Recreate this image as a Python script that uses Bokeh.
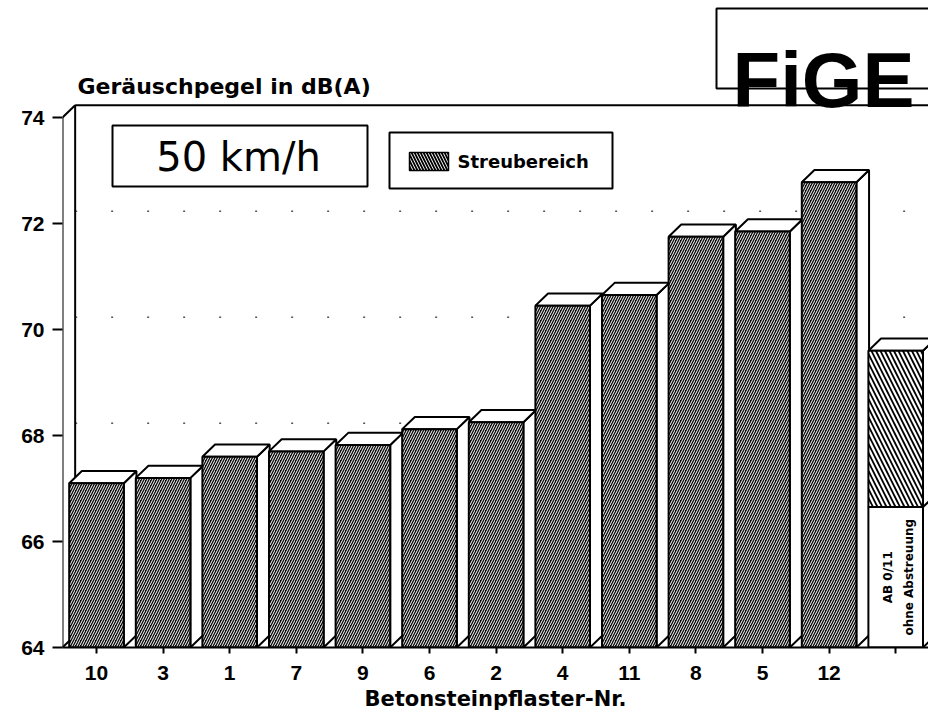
import numpy as np
from bokeh.plotting import figure
from bokeh.models import Range1d, FixedTicker
from bokeh.core.properties import value
from bokeh.embed import file_html
from bokeh.resources import INLINE

# ---------------- data ----------------
categories = ["10", "3", "1", "7", "9", "6", "2", "4", "11", "8", "5", "12"]
levels = [67.1, 67.2, 67.6, 67.7, 67.82, 68.12, 68.25, 70.45, 70.65, 71.75, 71.85, 72.78]
range_labels = ["AB 0/11", "ohne Abstreuung"]
range_low = 66.65
range_high = 69.6
y_ticks = [64, 66, 68, 70, 72, 74]
grid_levels = [66, 68, 70, 72]
y_title = "Geräuschpegel in dB(A)"
x_title = "Betonsteinpflaster-Nr."
speed_text = "50 km/h"
legend_text = "Streubereich"
logo_text = "FiGE"

# ---------------- layout ----------------
W, H = 928, 718
FRAME_L, FRAME_B = 62, 647
PXX, PXY = 66.6, 53.0
X0, X1 = (FRAME_L - 96) / PXX, (W - 96) / PXX
Y0, Y1 = 64.0, 64 + FRAME_B / PXY
HALF = 0.41      # half width of a bar front face
DX, DY = 0.19, 0.23   # 3D depth offset


def X(px):
    return (px - 96) / PXX


def Y(py):
    return 64 + (FRAME_B - py) / PXY


p = figure(width=W, height=H, output_backend="svg", toolbar_location=None,
           x_range=Range1d(X0, X1), y_range=Range1d(Y0, Y1),
           min_border_left=FRAME_L, min_border_right=0, min_border_top=0,
           min_border_bottom=H - FRAME_B)
p.outline_line_color = None
p.grid.visible = False
p.background_fill_color = "white"
p.border_fill_color = "white"

# axes
n = len(categories)
ya = p.yaxis[0]
ya.ticker = FixedTicker(ticks=y_ticks)
ya.axis_line_color = None
ya.major_tick_out = 10
ya.major_tick_in = 0
ya.minor_tick_out = 0
ya.minor_tick_in = 0
ya.major_tick_line_width = 2
ya.major_label_standoff = 8
ya.major_label_text_font = "Liberation Sans"
ya.major_label_text_font_style = "bold"
ya.major_label_text_font_size = "21px"
ya.major_label_text_color = "black"

xa = p.xaxis[0]
xa.ticker = FixedTicker(ticks=list(range(n + 1)))
xa.major_label_overrides = {i: lab for i, lab in enumerate(categories + [""])}
xa.axis_line_width = 2
xa.axis_line_color = "black"
xa.major_tick_out = 6
xa.major_tick_in = 0
xa.minor_tick_out = 0
xa.minor_tick_in = 0
xa.major_tick_line_width = 2
xa.major_label_standoff = 12
xa.major_label_text_font = "Liberation Sans"
xa.major_label_text_font_style = "bold"
xa.major_label_text_font_size = "21px"
xa.major_label_text_color = "black"
xa.axis_label = x_title
xa.axis_label_text_font = "DejaVu Sans"
xa.axis_label_text_font_style = "bold"
xa.axis_label_text_font_size = "21px"
xa.axis_label_text_color = "black"
xa.axis_label_standoff = 4

ytop = y_ticks[-1]
ybot = y_ticks[0]

# back wall: dotted grid, floor, left wall
p.segment(x0=[X0 + DX] * len(grid_levels), y0=[g + DY for g in grid_levels],
          x1=[X1] * len(grid_levels), y1=[g + DY for g in grid_levels],
          line_color="#555555", line_width=1.5, line_dash="2 34")
p.segment(x0=[X0 + DX, X0 + DX, X0 + DX, X0, X0, X0],
          y0=[ybot + DY, ybot + DY, ytop + DY, ytop, ybot, ybot],
          x1=[X1, X0 + DX, X1, X0 + DX, X0 + DX, X0],
          y1=[ybot + DY, ytop + DY, ytop + DY, ytop + DY, ybot + DY, ytop],
          line_color="black", line_width=2)

# bars
xs = np.arange(n, dtype=float)
lv = np.array(levels)
left = xs - HALF
right = xs + HALF

side_x = [[r, r + DX, r + DX, r] for r in right]
side_y = [[ybot, ybot + DY, v + DY, v] for v in lv]
top_x = [[l, l + DX, r + DX, r] for l, r in zip(left, right)]
top_y = [[v, v + DY, v + DY, v] for v in lv]

for i in range(n):
    p.patch(side_x[i], side_y[i], fill_color="white", line_color="black", line_width=2)
    p.patch(top_x[i], top_y[i], fill_color="white", line_color="black", line_width=2)
    p.quad(left=left[i], right=right[i], bottom=ybot, top=lv[i],
           fill_color="#0a0a0a", hatch_pattern="/", hatch_color="white",
           hatch_scale=5, hatch_weight=1.0, line_color="black", line_width=2)

# last bar: range (Streubereich) without grit
xl = float(n)
ll, rr = xl - HALF, xl + HALF
p.patch([rr, rr + DX, rr + DX, rr], [ybot, ybot + DY, range_high + DY, range_high],
        fill_color="white", line_color="black", line_width=2)
p.patch([ll, ll + DX, rr + DX, rr], [range_high, range_high + DY, range_high + DY, range_high],
        fill_color="white", line_color="black", line_width=2)
p.segment(x0=[rr], y0=[range_low], x1=[rr + DX], y1=[range_low + DY],
          line_color="black", line_width=2)
p.quad(left=ll, right=rr, bottom=ybot, top=range_low,
       fill_color="white", line_color="black", line_width=2)
p.quad(left=ll, right=rr, bottom=range_low, top=range_high,
       fill_color="white", hatch_pattern="\\", hatch_color="black",
       hatch_scale=9, hatch_weight=1.8, line_color="black", line_width=2)
p.text(x=[xl - 0.12, xl + 0.2], y=[(ybot + range_low) / 2] * 2, text=range_labels,
       angle=np.pi / 2, text_align="center", text_baseline="middle",
       text_font=value("DejaVu Sans"), text_font_style="bold",
       text_font_size=value("12px"), text_color="black")

# y title
p.text(x=[X(77)], y=[Y(86)], text=[y_title], text_align="left", text_baseline="middle",
       text_font=value("DejaVu Sans"), text_font_style="bold",
       text_font_size=value("22px"), text_color="black")

# speed box
p.quad(left=X(112), right=X(367), bottom=Y(186), top=Y(125),
       fill_color="white", line_color="black", line_width=2)
p.text(x=[X(238)], y=[Y(156)], text=[speed_text], text_align="center",
       text_baseline="middle", text_font=value("DejaVu Sans"),
       text_font_size=value("40px"), text_color="black")

# legend box
p.quad(left=X(389), right=X(612), bottom=Y(188), top=Y(132),
       fill_color="white", line_color="black", line_width=2)
p.quad(left=X(409), right=X(448), bottom=Y(170), top=Y(152),
       fill_color="white", hatch_pattern="\\", hatch_color="black",
       hatch_scale=6, hatch_weight=1.8, line_color="black", line_width=1.5)
p.text(x=[X(457)], y=[Y(161)], text=[legend_text], text_align="left",
       text_baseline="middle", text_font=value("DejaVu Sans"),
       text_font_style="bold", text_font_size=value("18px"), text_color="black")

# logo
p.quad(left=X(716), right=X(960), bottom=Y(88), top=Y(8),
       fill_color="white", line_color="black", line_width=2)
p.text(x=[X(732)], y=[Y(79)], text=[logo_text], text_align="left",
       text_baseline="alphabetic", text_font=value("Liberation Sans"),
       text_font_style="bold", text_font_size=value("78px"), text_color="black")

open("out.html", "w").write(file_html(p, INLINE))
